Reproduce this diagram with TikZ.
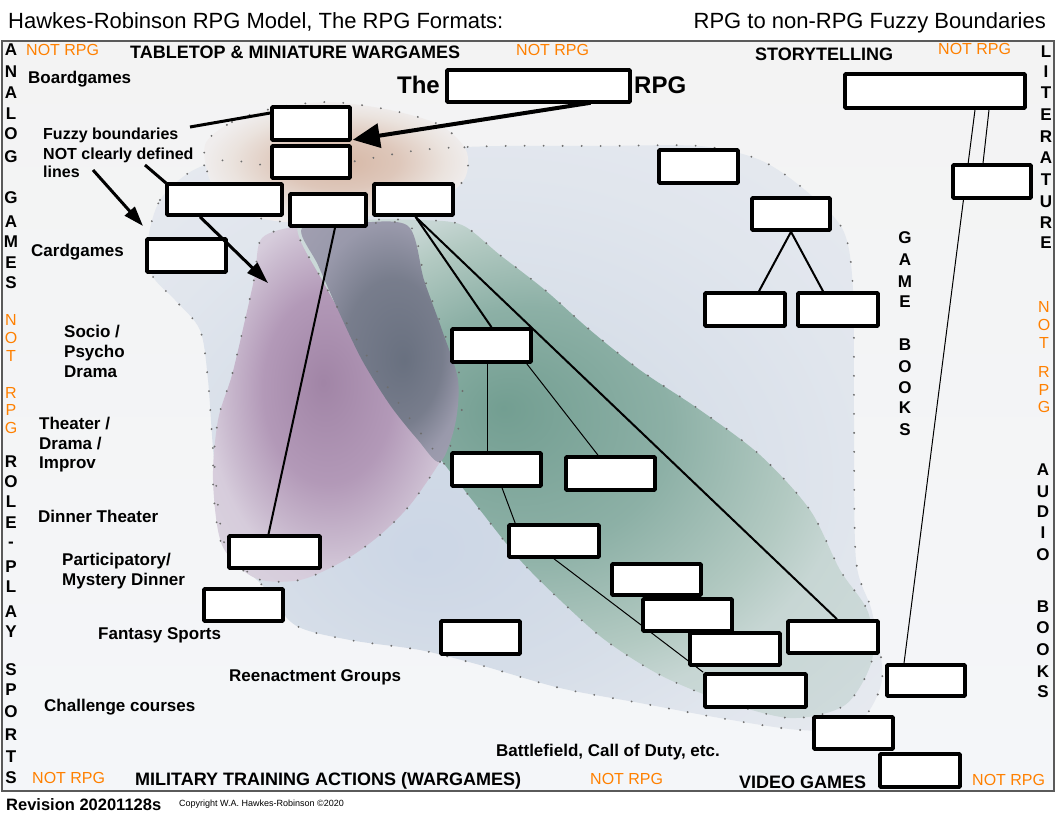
\documentclass[tikz,border=0pt]{standalone}
\usepackage{fontspec}
\setmainfont{Liberation Sans}
\usetikzlibrary{arrows.meta}
\definecolor{orng}{RGB}{255,128,0}
\definecolor{framec}{RGB}{90,90,90}
\definecolor{dotc}{RGB}{110,110,110}
\definecolor{bgtop}{RGB}{243,243,243}
\definecolor{bgbot}{RGB}{244,246,249}
\pgfdeclareradialshading{shPale}{\pgfpoint{-6.5bp}{-10bp}}{rgb(0bp)=(0.8,0.84,0.9); rgb(15bp)=(0.84,0.87,0.91); rgb(25bp)=(0.88,0.9,0.93); rgb(36bp)=(0.91,0.92,0.94)}
\pgfdeclareradialshading{shTan}{\pgfpoint{1bp}{0bp}}{rgb(0bp)=(0.84,0.72,0.65); rgb(11bp)=(0.87,0.78,0.73); rgb(20bp)=(0.92,0.89,0.87); rgb(25bp)=(0.94,0.93,0.93); rgb(36bp)=(0.94,0.93,0.93)}
\pgfdeclareradialshading{shPurple}{\pgfpoint{-3bp}{2.5bp}}{rgb(0bp)=(0.63,0.52,0.65); rgb(13bp)=(0.7,0.6,0.72); rgb(21bp)=(0.79,0.73,0.81); rgb(25bp)=(0.84,0.8,0.86); rgb(36bp)=(0.86,0.84,0.88)}
\pgfdeclareradialshading{shGreen}{\pgfpoint{-7bp}{6bp}}{rgb(0bp)=(0.45,0.62,0.57); rgb(12bp)=(0.55,0.69,0.65); rgb(21bp)=(0.7,0.79,0.76); rgb(25bp)=(0.78,0.84,0.83); rgb(36bp)=(0.82,0.86,0.87)}
\pgfdeclareradialshading{shDark}{\pgfpoint{8bp}{-4bp}}{rgb(0bp)=(0.41,0.44,0.5); rgb(15bp)=(0.47,0.49,0.55); rgb(25bp)=(0.6,0.6,0.67); rgb(36bp)=(0.64,0.63,0.7)}
\begin{document}
\begin{tikzpicture}[x=1pt,y=-1pt,
  box/.style={draw, line width=3.6pt, fill=white, inner sep=0pt, rounded corners=1pt},
  dots/.style={draw=dotc, line width=2.1pt, line cap=round, dash pattern=on 0pt off 19pt},
  thk/.style={line width=2pt},
  thn/.style={line width=1pt},
  fzl/.style={line width=3pt},
  lab/.style={font=\fontsize{17}{20}\selectfont\bfseries, anchor=base west, inner sep=0pt},
  fzt/.style={font=\fontsize{16}{19}\selectfont\bfseries, anchor=base west, inner sep=0pt},
  head/.style={font=\fontsize{18}{21}\selectfont\bfseries, anchor=base west, inner sep=0pt},
  nrpg/.style={font=\fontsize{16}{19}\selectfont, text=orng, anchor=base west, inner sep=0pt},
  vl/.style={font=\fontsize{17}{20}\selectfont\bfseries, inner sep=0pt},
  vo/.style={font=\fontsize{16}{19}\selectfont, text=orng, inner sep=0pt},
  ttl/.style={font=\fontsize{22}{26}\selectfont, anchor=base west, inner sep=0pt}]
\useasboundingbox (0,0) rectangle (1056,816);
\fill[white] (0,0) rectangle (1056,816);
% frame background
\shade[top color=bgtop, bottom color=bgbot] (2,41) rectangle (1054,791);
% fuzzy regions
\shade[shading=shPale] plot[smooth cycle] coordinates {(148,240) (160,200) (190,172) (225,160) (265,165) (330,165) (420,150) (500,146) (600,146) (700,146) (760,160) (805,190) (843,230) (853,290) (854,420) (856,560) (872,612) (882,680) (855,726) (800,730) (720,718) (640,703) (560,688) (480,665) (420,650) (350,640) (295,625) (262,585) (225,545) (214,460) (208,380) (200,330) (175,300) (152,275)};
\shade[shading=shTan] plot[smooth cycle] coordinates {(205,145) (232,122) (275,108) (330,102) (390,110) (440,125) (466,150) (465,178) (440,200) (395,212) (340,220) (285,222) (240,212) (212,185)};
\shade[shading=shPurple] plot[smooth cycle] coordinates {(262,238) (300,226) (360,224) (410,226) (425,280) (445,335) (462,385) (458,430) (438,465) (410,505) (380,535) (345,560) (300,580) (255,578) (222,545) (213,480) (218,420) (232,375) (245,320) (255,275)};
\shade[shading=shGreen] plot[smooth cycle] coordinates {(298,226) (360,220) (420,220) (462,225) (500,255) (545,290) (590,330) (640,370) (700,410) (760,455) (810,510) (840,570) (868,612) (872,660) (845,705) (790,718) (720,700) (660,675) (605,640) (560,600) (520,560) (480,510) (445,465) (400,405) (360,345) (325,285)};
\shade[shading=shDark] plot[smooth cycle] coordinates {(302,228) (355,223) (408,226) (424,280) (442,330) (458,380) (455,425) (440,462) (418,440) (390,405) (362,360) (338,310) (318,265)};
% dotted outlines
\draw[dots] plot[smooth cycle] coordinates {(148,240) (160,200) (190,172) (225,160) (265,165) (330,165) (420,150) (500,146) (600,146) (700,146) (760,160) (805,190) (843,230) (853,290) (854,420) (856,560) (872,612) (882,680) (855,726) (800,730) (720,718) (640,703) (560,688) (480,665) (420,650) (350,640) (295,625) (262,585) (225,545) (214,460) (208,380) (200,330) (175,300) (152,275)};
\draw[dots] plot[smooth cycle] coordinates {(205,145) (232,122) (275,108) (330,102) (390,110) (440,125) (466,150) (465,178) (440,200) (395,212) (340,220) (285,222) (240,212) (212,185)};
\draw[dots] plot[smooth cycle] coordinates {(262,238) (300,226) (360,224) (410,226) (425,280) (445,335) (462,385) (458,430) (438,465) (410,505) (380,535) (345,560) (300,580) (255,578) (222,545) (213,480) (218,420) (232,375) (245,320) (255,275)};
\draw[dots] plot[smooth cycle] coordinates {(298,226) (360,220) (420,220) (462,225) (500,255) (545,290) (590,330) (640,370) (700,410) (760,455) (810,510) (840,570) (868,612) (872,660) (845,705) (790,718) (720,700) (660,675) (605,640) (560,600) (520,560) (480,510) (445,465) (400,405) (360,345) (325,285)};
% frame
\draw[framec, line width=1.5pt] (2,41) rectangle (1054,791);
% boxes (geometry)
\path
  node[box, minimum width=183pt, minimum height=32pt] (b1) at (538.5,86) {}
  node[box, minimum width=180pt, minimum height=34pt] (b2) at (935,91) {}
  node[box, minimum width=78pt, minimum height=33pt] (bA) at (311,123.5) {}
  node[box, minimum width=78pt, minimum height=32pt] (bB) at (311,162) {}
  node[box, minimum width=115pt, minimum height=31pt] (bC) at (224.5,199.5) {}
  node[box, minimum width=76pt, minimum height=32pt] (bD) at (328,210) {}
  node[box, minimum width=79pt, minimum height=31pt] (bE) at (413.5,199.5) {}
  node[box, minimum width=79pt, minimum height=33pt] (bCard) at (186.5,255.5) {}
  node[box, minimum width=79pt, minimum height=33pt] (b9) at (698.5,166.5) {}
  node[box, minimum width=78pt, minimum height=32pt] (b10) at (791,214) {}
  node[box, minimum width=80pt, minimum height=33pt] (b11) at (745,309.5) {}
  node[box, minimum width=80pt, minimum height=33pt] (b12) at (838,309.5) {}
  node[box, minimum width=78pt, minimum height=33pt] (b13) at (992,181.5) {}
  node[box, minimum width=79pt, minimum height=33pt] (b14) at (491.5,345.5) {}
  node[box, minimum width=89pt, minimum height=33pt] (b15) at (496.5,469.5) {}
  node[box, minimum width=89pt, minimum height=33pt] (b16) at (610.5,473.5) {}
  node[box, minimum width=90pt, minimum height=32pt] (b17) at (554,541) {}
  node[box, minimum width=89pt, minimum height=31pt] (b18) at (656.5,579.5) {}
  node[box, minimum width=89pt, minimum height=32pt] (b19) at (687.5,615) {}
  node[box, minimum width=90pt, minimum height=32pt] (b20) at (735,649) {}
  node[box, minimum width=101pt, minimum height=33pt] (b21) at (755.5,690.5) {}
  node[box, minimum width=90pt, minimum height=32pt] (b22) at (833,637) {}
  node[box, minimum width=79pt, minimum height=33pt] (b23) at (480.5,637.5) {}
  node[box, minimum width=91pt, minimum height=32pt] (b24) at (274.5,552) {}
  node[box, minimum width=79pt, minimum height=32pt] (b25) at (243.5,605) {}
  node[box, minimum width=78pt, minimum height=31pt] (b26) at (926,680.5) {}
  node[box, minimum width=79pt, minimum height=32pt] (b27) at (853.5,733) {}
  node[box, minimum width=80pt, minimum height=33pt] (b28) at (920,770.5) {};
% connectors
\draw[thk] ([xshift=7pt]bD.south) -- ([xshift=-6pt]b24.north);
\draw[thk] ([xshift=2pt]bE.south) -- (b14.north);
\draw[thk] ([xshift=2pt]bE.south) -- ([xshift=4pt]b22.north);
\draw[thn] ([xshift=-4.5pt]b14.south) -- ([xshift=-4.5pt]b14.south |- b15.north);
\draw[thn] ([xshift=-6pt]b14.south east) -- ([xshift=-12.5pt]b16.north);
\draw[thn] ([xshift=5.5pt]b15.south) -- ([xshift=8pt]b17.north west);
\draw[thn] (b17.south) -- (b21.north west);
\draw[thn] ([xshift=40pt]b2.south) -- ([xshift=-22pt]b26.north);
\draw[thn] ([xshift=54pt]b2.south) -- ([xshift=-9pt]b13.north);
\draw[thk] (b10.south) -- ([xshift=14pt]b11.north);
\draw[thk] (b10.south) -- ([xshift=-15pt]b12.north);
% boxes on top of the connectors
\foreach \b in {b1,b2,bA,bB,bC,bD,bE,bCard,b9,b10,b11,b12,b13,b14,b15,b16,b17,b18,b19,b20,b21,b22,b23,b24,b25,b26,b27,b28}
  \draw[line width=3.6pt, fill=white, rounded corners=1pt] (\b.south west) ++(1.8pt,1.8pt) rectangle ([xshift=-1.8pt,yshift=-1.8pt]\b.north east);
% titles
\node[ttl] (t1) at (8,29) {Hawkes-Robinson RPG Model, The RPG Formats:};
\node[ttl, anchor=base east] (t2) at (1046,29) {RPG to non-RPG Fuzzy Boundaries};
% headings
\node[nrpg] (n1) at (26,56) {NOT RPG};
\node[head] (h1) at (130,59) {TABLETOP \& MINIATURE WARGAMES};
\node[nrpg] (n2) at (516,56) {NOT RPG};
\node[head] (h2) at (755,60) {STORYTELLING};
\node[nrpg] (n3) at (938,55) {NOT RPG};
\node[font=\fontsize{24}{28}\selectfont\bfseries, anchor=base east, inner sep=0pt] (the) at (440,93) {The};
\node[font=\fontsize{24}{28}\selectfont\bfseries, anchor=base west, inner sep=0pt] (rpg) at (634,93) {RPG};
\node[nrpg] (n4) at (32,783) {NOT RPG};
\node[head] (h3) at (135,785) {MILITARY TRAINING ACTIONS (WARGAMES)};
\node[nrpg] (n5) at (590,784) {NOT RPG};
\node[head] (h4) at (739,788) {VIDEO GAMES};
\node[nrpg] (n6) at (972,785) {NOT RPG};
\node[lab] (bf) at (496,756) {Battlefield, Call of Duty, etc.};
% left labels
\node[lab] (l1) at (28,83) {Boardgames};
\node[fzt] (fz1) at (43,139) {Fuzzy boundaries};
\node[fzt] (fz2) at (43,159) {NOT clearly defined};
\node[fzt] (fz3) at (43,177) {lines};
\node[lab] (l2) at (31,256) {Cardgames};
\node[lab] (l3) at (64,337) {Socio /};
\node[lab] (l4) at (64,357) {Psycho};
\node[lab] (l5) at (64,377) {Drama};
\node[lab] (l6) at (39,429) {Theater /};
\node[lab] (l7) at (39,449) {Drama /};
\node[lab] (l8) at (39,468) {Improv};
\node[lab] (l9) at (38,522) {Dinner Theater};
\node[lab] (l10) at (62,565) {Participatory/};
\node[lab] (l11) at (62,585) {Mystery Dinner};
\node[lab] (l12) at (98,639) {Fantasy Sports};
\node[lab] (l13) at (229,681) {Reenactment Groups};
\node[lab] (l14) at (44,711) {Challenge courses};
% vertical words
\foreach \l/\y [count=\i] in {A/50,N/72,A/93,L/114,O/134,G/157,G/198,A/222,M/242,E/263,S/283,R/462,O/482,L/502,E/523,-/545,P/567,L/587,A/612,Y/632,S/670,P/690,O/712,R/735,T/757,S/778}
  \node[vl] (lv\i) at (11,\y) {\l};
\foreach \l/\y [count=\i] in {N/320,O/338,T/356,R/393,P/410,G/428}
  \node[vo] (lo\i) at (11,\y) {\l};
\foreach \l/\y [count=\i] in {L/52,I/72,T/93,E/115,R/137,A/158,T/180,U/202,R/223,E/243}
  \node[vl] (rv\i) at (1046,\y) {\l};
\foreach \l/\y [count=\i] in {N/307,O/325,T/343,R/372,P/390,G/407}
  \node[vo] (ro\i) at (1044,\y) {\l};
\foreach \l/\y [count=\i] in {A/470,U/492,D/512,I/533,O/555,B/607,O/628,O/650,K/672,S/692}
  \node[vl] (ra\i) at (1043,\y) {\l};
\foreach \l/\y [count=\i] in {G/238,A/260,M/282,E/302,B/345,O/367,O/388,K/408,S/430}
  \node[vl] (gb\i) at (905,\y) {\l};
% footer
\node[font=\fontsize{16.5}{19}\selectfont\bfseries, anchor=base west, inner sep=0pt] (rev) at (6,810) {Revision 20201128s};
\node[font=\fontsize{9}{11}\selectfont, anchor=base west, inner sep=0pt] (cpy) at (179,806) {Copyright W.A. Hawkes-Robinson \textcopyright2020};
% fuzzy-boundary pointers
\coordinate (f1s) at (190,127);
\coordinate (f2s) at (145,165);
\coordinate (f3s) at (93,170);
\coordinate (f3e) at (143,226);
\coordinate (f4e) at (268,283);
\draw[fzl] (f1s) -- ([yshift=10.5pt]bA.west);
\draw[fzl] (f2s) -- ([xshift=1pt,yshift=-1pt]bC.north west);
\draw[fzl, -{Triangle[length=20pt,width=13pt]}] (f3s) -- (f3e);
\draw[fzl, -{Triangle[length=22pt,width=14pt]}] ([xshift=-24.5pt]bC.south) -- (f4e);
\draw[line width=4pt, -{Triangle[length=27pt,width=24pt]}] ([xshift=52pt,yshift=1pt]b1.south) -- ([xshift=1pt,yshift=2pt]bA.south east);
\end{tikzpicture}
\end{document}
